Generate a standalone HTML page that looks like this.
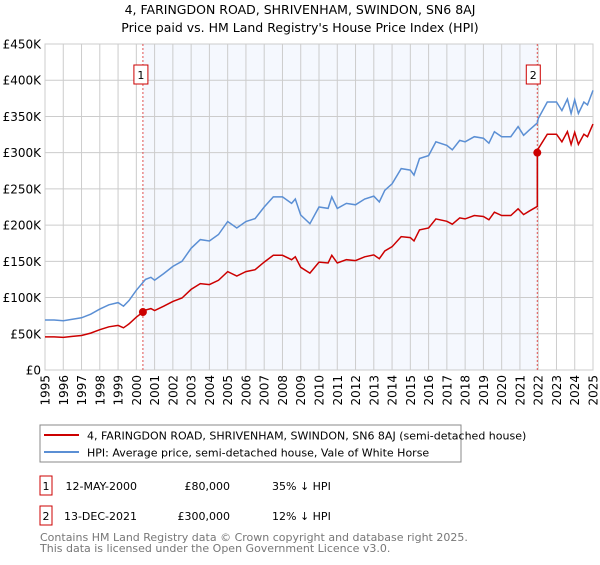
<!DOCTYPE html>
<html><head><meta charset="utf-8"><style>
body{margin:0;background:#fff;font-family:"Liberation Sans","DejaVu Sans",sans-serif;}
svg text{font-family:"DejaVu Sans","Liberation Sans",sans-serif;}
</style></head><body>
<svg id="c" width="600" height="560" xmlns="http://www.w3.org/2000/svg">
<text x="300" y="14" text-anchor="middle" font-size="12.5">4, FARINGDON ROAD, SHRIVENHAM, SWINDON, SN6 8AJ</text>
<text x="300" y="32" text-anchor="middle" font-size="12.5">Price paid vs. HM Land Registry's House Price Index (HPI)</text>
<g id="plot"></g>
<rect x="40" y="425" width="421" height="37" fill="#fff" stroke="#888"/>
<line x1="44" y1="435" x2="79" y2="435" stroke="#cc0000" stroke-width="2"/>
<text x="87" y="439.5" font-size="11">4, FARINGDON ROAD, SHRIVENHAM, SWINDON, SN6 8AJ (semi-detached house)</text>
<line x1="44" y1="452" x2="79" y2="452" stroke="#5b8fd4" stroke-width="2"/>
<text x="87" y="456.5" font-size="11">HPI: Average price, semi-detached house, Vale of White Horse</text>
<g>
<rect x="40" y="476" width="12" height="19" fill="#fff" stroke="#cc0000"/>
<text x="46" y="490" font-size="11" text-anchor="middle">1</text>
<text x="137" y="490" font-size="11" text-anchor="end">12-MAY-2000</text>
<text x="230" y="490" font-size="11" text-anchor="end">£80,000</text>
<text x="272" y="490" font-size="11">35% ↓ HPI</text></g>
<g>
<rect x="40" y="506" width="12" height="19" fill="#fff" stroke="#cc0000"/>
<text x="46" y="520" font-size="11" text-anchor="middle">2</text>
<text x="137" y="520" font-size="11" text-anchor="end">13-DEC-2021</text>
<text x="230" y="520" font-size="11" text-anchor="end">£300,000</text>
<text x="272" y="520" font-size="11">12% ↓ HPI</text></g>
<text x="40" y="541" font-size="11" fill="#777">Contains HM Land Registry data © Crown copyright and database right 2025.</text>
<text x="40" y="552" font-size="11" fill="#777">This data is licensed under the Open Government Licence v3.0.</text>
</svg>
<script>
const hpiYears=[1995,1995.5,1996,1996.5,1997,1997.5,1998,1998.5,1999,1999.3,1999.6,2000,2000.5,2000.8,2001,2001.5,2002,2002.5,2003,2003.5,2004,2004.5,2005,2005.5,2006,2006.5,2007,2007.5,2008,2008.5,2008.7,2009,2009.5,2010,2010.5,2010.7,2011,2011.5,2012,2012.5,2013,2013.3,2013.6,2014,2014.5,2015,2015.2,2015.5,2016,2016.4,2017,2017.3,2017.7,2018,2018.5,2019,2019.3,2019.6,2020,2020.5,2020.9,2021.2,2021.5,2021.95,2022,2022.5,2023,2023.3,2023.6,2023.8,2024,2024.2,2024.5,2024.7,2025];
const hpiValues=[69,69,68,70,72,77,84,90,93,88,96,110,125,128,124,133,143,150,168,180,178,187,205,196,205,209,225,239,239,230,236,214,202,225,223,239,223,230,228,236,240,232,248,257,278,276,269,292,296,315,310,304,317,315,322,320,313,329,322,322,336,324,331,341,347,370,370,358,374,354,373,354,370,366,386];
const saleDates=[2000.36,2021.95];
const salePrices=[80,300];
const yTicks=[0,50,100,150,200,250,300,350,400,450];
const yTickLabels=["£0","£50K","£100K","£150K","£200K","£250K","£300K","£350K","£400K","£450K"];
const xTicks=[];for(let y=1995;y<=2025;y++)xTicks.push(y);
const NS="http://www.w3.org/2000/svg";
const L=45,R=593,T=44,B=370;
const sx=v=>L+(v-1995)/30*(R-L);
const sy=v=>B-v/450*(B-T);
const g=document.getElementById('plot');
function mk(t,a,p){const e=document.createElementNS(NS,t);for(const k in a)e.setAttribute(k,a[k]);(p||g).appendChild(e);return e;}
const shade=mk('rect',{x:sx(saleDates[0]),y:T,width:sx(saleDates[1])-sx(saleDates[0]),height:B-T,fill:'#f5f8fe'});


yTicks.forEach((v,i)=>{
 const l=mk('line',{x1:L,x2:R,y1:sy(v),y2:sy(v),stroke:'#ccc'});
 
 
 const t=mk('text',{x:L-4,y:sy(v)+4.5,'text-anchor':'end','font-size':'12'});
 
 
 t.textContent=yTickLabels[i];
});
xTicks.forEach(v=>{
 const l=mk('line',{x1:sx(v),x2:sx(v),y1:T,y2:B,stroke:'#ccc'});
 
 
 const t=mk('text',{x:0,y:0,'text-anchor':'end','font-size':'12',transform:`translate(${sx(v)+4.5},${B+5}) rotate(-90)`});
 
 
 t.textContent=v;
});
const fr=mk('rect',{x:L,y:T,width:R-L,height:B-T,fill:'none',stroke:'#ccc'});


function hpiAt(d){for(let i=1;i<hpiYears.length;i++){if(d<=hpiYears[i]){const f=(d-hpiYears[i-1])/(hpiYears[i]-hpiYears[i-1]);return hpiValues[i-1]+f*(hpiValues[i]-hpiValues[i-1]);}}return hpiValues[hpiValues.length-1];}
saleDates.forEach((d,i)=>{
 const l=mk('line',{x1:sx(d),x2:sx(d),y1:T,y2:B,stroke:'#e05050','stroke-dasharray':'2,2'});
 
 
 const b=mk('rect',{x:sx(d)-(i?11:9),y:65,width:14,height:19,fill:'#fff',stroke:'#cc0000'});
 
 
 const t=mk('text',{x:sx(d)-(i?4:2),y:79,'text-anchor':'middle','font-size':'11'});
 
 
 t.textContent=i+1;
});
const hp=mk('path',{d:hpiYears.map((y,i)=>(i?'L':'M')+sx(y).toFixed(1)+','+sy(hpiValues[i]).toFixed(1)).join(''),fill:'none',stroke:'#5b8fd4','stroke-width':'1.5'});


const r1=salePrices[0]/hpiAt(saleDates[0]),r2=salePrices[1]/hpiAt(saleDates[1]);
let pts=[];
hpiYears.forEach((y,i)=>{if(y<saleDates[1])pts.push([y,hpiValues[i]*r1]);});
pts.push([saleDates[1],hpiAt(saleDates[1])*r1]);
pts.push([saleDates[1],salePrices[1]]);
hpiYears.forEach((y,i)=>{if(y>saleDates[1])pts.push([y,hpiValues[i]*r2]);});
const rp=mk('path',{d:pts.map((p,i)=>(i?'L':'M')+sx(p[0]).toFixed(1)+','+sy(p[1]).toFixed(1)).join(''),fill:'none',stroke:'#cc0000','stroke-width':'1.5'});


saleDates.forEach((d,i)=>{
 const c=mk('circle',{cx:sx(d),cy:sy(salePrices[i]),r:4,fill:'#cc0000'});
 
 
});
</script>
</body></html>
